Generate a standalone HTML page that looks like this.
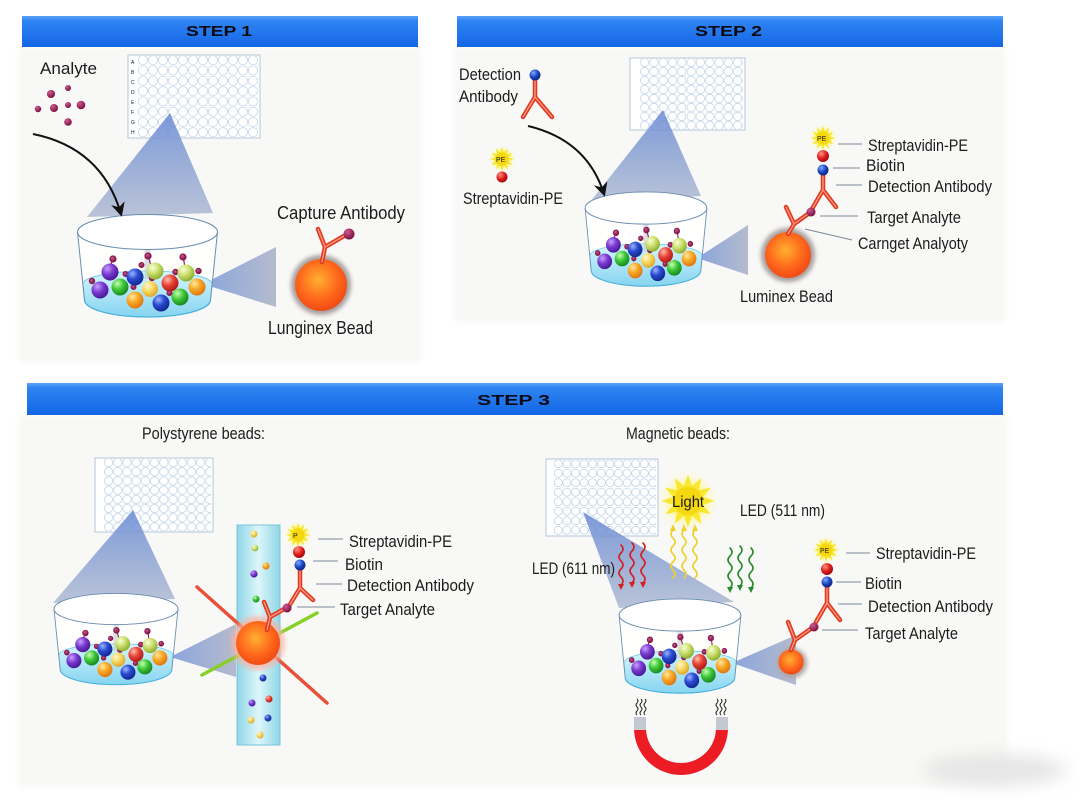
<!DOCTYPE html>
<html><head><meta charset="utf-8">
<style>
html,body{margin:0;padding:0;background:#fff;}
svg{display:block;}
text{font-family:"Liberation Sans Narrow","Liberation Sans",sans-serif;fill:#1c1c1c;}
.bn{font-family:"Liberation Sans",sans-serif;font-weight:bold;fill:#0a0a14;font-size:15px;}
.ab{fill:none;stroke:#e03a22;stroke-width:4.5;stroke-linecap:round;stroke-linejoin:round;}
.abh{fill:none;stroke:#ff9a80;stroke-width:1.3;stroke-linecap:round;stroke-linejoin:round;}
.ln{stroke:#7a8898;stroke-width:1;}
</style></head>
<body>
<svg width="1080" height="810" viewBox="0 0 1080 810" xmlns="http://www.w3.org/2000/svg">
<defs>
  <linearGradient id="ban" x1="0" y1="0" x2="0" y2="1">
    <stop offset="0" stop-color="#5aa2f8"/><stop offset="0.15" stop-color="#2f84f2"/><stop offset="1" stop-color="#1466e6"/>
  </linearGradient>
  <linearGradient id="cone" x1="0" y1="0" x2="0" y2="1">
    <stop offset="0" stop-color="#6688d4" stop-opacity=".85"/><stop offset="1" stop-color="#aab6d0" stop-opacity=".8"/>
  </linearGradient>
  <linearGradient id="sc" x1="0" y1="0" x2="1" y2="0">
    <stop offset="0" stop-color="#7896d8" stop-opacity=".85"/><stop offset="1" stop-color="#a8b0c6" stop-opacity=".85"/>
  </linearGradient>
  <linearGradient id="liq" x1="0" y1="0" x2="0" y2="1">
    <stop offset="0" stop-color="#d4f6ff"/><stop offset="1" stop-color="#86d4f0"/>
  </linearGradient>
  <linearGradient id="chan" x1="0" y1="0" x2="1" y2="0">
    <stop offset="0" stop-color="#8fd6e6"/><stop offset=".5" stop-color="#dcf6fa"/><stop offset="1" stop-color="#8fd6e6"/>
  </linearGradient>
  <radialGradient id="bead" cx=".45" cy=".4" r=".6">
    <stop offset="0" stop-color="#ffb030"/><stop offset=".6" stop-color="#ff6a1c"/><stop offset="1" stop-color="#f04a14"/>
  </radialGradient>
  <radialGradient id="gPu" cx=".35" cy=".3" r=".7"><stop offset="0" stop-color="#c8a0ff"/><stop offset=".5" stop-color="#7a3ad0"/><stop offset="1" stop-color="#4a1a98"/></radialGradient>
  <radialGradient id="gBl" cx=".35" cy=".3" r=".7"><stop offset="0" stop-color="#9ab4ff"/><stop offset=".5" stop-color="#2848d0"/><stop offset="1" stop-color="#142a90"/></radialGradient>
  <radialGradient id="gGr" cx=".35" cy=".3" r=".7"><stop offset="0" stop-color="#c8ffb0"/><stop offset=".5" stop-color="#40c83a"/><stop offset="1" stop-color="#1a8a20"/></radialGradient>
  <radialGradient id="gYg" cx=".35" cy=".3" r=".7"><stop offset="0" stop-color="#f8ffd8"/><stop offset=".5" stop-color="#cce070"/><stop offset="1" stop-color="#90b030"/></radialGradient>
  <radialGradient id="gYe" cx=".35" cy=".3" r=".7"><stop offset="0" stop-color="#fff8d0"/><stop offset=".5" stop-color="#f8d860"/><stop offset="1" stop-color="#e0a830"/></radialGradient>
  <radialGradient id="gOr" cx=".35" cy=".3" r=".7"><stop offset="0" stop-color="#ffe8a0"/><stop offset=".5" stop-color="#f8a824"/><stop offset="1" stop-color="#e07810"/></radialGradient>
  <radialGradient id="gRe" cx=".35" cy=".3" r=".7"><stop offset="0" stop-color="#ffc0b0"/><stop offset=".5" stop-color="#e84434"/><stop offset="1" stop-color="#b01c18"/></radialGradient>
  <radialGradient id="gMa" cx=".35" cy=".3" r=".7"><stop offset="0" stop-color="#d05a90"/><stop offset="1" stop-color="#7a1040"/></radialGradient>
  <radialGradient id="gRd" cx=".35" cy=".3" r=".7"><stop offset="0" stop-color="#ff9080"/><stop offset=".6" stop-color="#e01a1a"/><stop offset="1" stop-color="#a00c10"/></radialGradient>
  <radialGradient id="gBd" cx=".35" cy=".3" r=".7"><stop offset="0" stop-color="#80a8ff"/><stop offset=".6" stop-color="#1a44c0"/><stop offset="1" stop-color="#0c2680"/></radialGradient>
  <filter id="blur2" x="-50%" y="-50%" width="200%" height="200%"><feGaussianBlur stdDeviation="2"/></filter>
  <filter id="blur1" x="-50%" y="-50%" width="200%" height="200%"><feGaussianBlur stdDeviation="1"/></filter>
  <filter id="blur3" x="-50%" y="-50%" width="200%" height="200%"><feGaussianBlur stdDeviation="3"/></filter>
  <filter id="blur8" x="-50%" y="-50%" width="200%" height="200%"><feGaussianBlur stdDeviation="8"/></filter>
  <pattern id="w1" patternUnits="userSpaceOnUse" x="138" y="55" width="10" height="10.3"><circle cx="5" cy="5.15" r="4.6" fill="none" stroke="#bcd0e4" stroke-width=".7"/></pattern>
  <pattern id="w2" patternUnits="userSpaceOnUse" x="640" y="58" width="9.3" height="9" ><circle cx="4.65" cy="4.5" r="4.2" fill="none" stroke="#bcd0e4" stroke-width=".7"/></pattern>
  <pattern id="w3" patternUnits="userSpaceOnUse" x="104" y="458" width="9.2" height="9.2"><circle cx="4.6" cy="4.6" r="4.2" fill="none" stroke="#bcd0e4" stroke-width=".7"/></pattern>
  <pattern id="w4" patternUnits="userSpaceOnUse" x="554" y="459" width="8.6" height="9.5"><circle cx="4.3" cy="4.75" r="4" fill="none" stroke="#bcd0e4" stroke-width=".7"/></pattern>
  <marker id="ah" viewBox="0 0 10 10" refX="8" refY="5" markerWidth="7" markerHeight="7" orient="auto">
    <path d="M0,0 L10,5 L0,10 L3,5 Z" fill="#111"/>
  </marker>
  <g id="star">
    <circle r="10" fill="#fff6a0" filter="url(#blur2)"/>
    <polygon points="12,0 6.76,1.81 10.4,6 4.95,4.95 6,10.4 1.81,6.76 0,12 -1.81,6.76 -6,10.4 -4.95,4.95 -10.4,6 -6.76,1.81 -12,0 -6.76,-1.81 -10.4,-6 -4.95,-4.95 -6,-10.4 -1.81,-6.76 0,-12 1.81,-6.76 6,-10.4 4.95,-4.95 10.4,-6 6.76,-1.81" fill="#f8e830"/>
    <circle r="6.5" fill="#f6d810"/>
  </g>
  <g id="beads">
    <g stroke="#8a1a50" stroke-width="1.2" fill="url(#gMa)">
      <line x1="-37" y1="33" x2="-35" y2="28"/><circle cx="-34.5" cy="27" r="3"/>
      <line x1="3" y1="32" x2="1" y2="25"/><circle cx="0.5" cy="24" r="3"/>
      <line x1="37" y1="33" x2="36" y2="26"/><circle cx="35.5" cy="25" r="3"/>
      <circle cx="-55.5" cy="49" r="2.6"/>
      <circle cx="-6" cy="33" r="2.4"/>
      <circle cx="4.5" cy="46" r="2.6"/>
      <circle cx="28" cy="40" r="2.6"/>
      <circle cx="51" cy="39" r="2.6"/>
      <circle cx="-14" cy="55" r="2.4"/>
      <circle cx="-22" cy="42" r="2.4"/>
      <circle cx="22" cy="61" r="2.4"/>
    </g>
    <circle cx="-37.5" cy="40" r="8.5" fill="url(#gPu)"/>
    <circle cx="7.5" cy="39" r="8.5" fill="url(#gYg)"/>
    <circle cx="38.5" cy="41" r="8.5" fill="url(#gYg)"/>
    <circle cx="-12.5" cy="45" r="8.5" fill="url(#gBl)"/>
    <circle cx="22.5" cy="51" r="8.5" fill="url(#gRe)"/>
    <circle cx="49.5" cy="55" r="8.5" fill="url(#gOr)"/>
    <circle cx="-27.5" cy="55" r="8.5" fill="url(#gGr)"/>
    <circle cx="2.5" cy="57" r="8" fill="url(#gYe)"/>
    <circle cx="-47.5" cy="58" r="8.5" fill="url(#gPu)"/>
    <circle cx="32.5" cy="65" r="8.5" fill="url(#gGr)"/>
    <circle cx="-12.5" cy="68" r="8.5" fill="url(#gOr)"/>
    <circle cx="13.5" cy="71" r="8.5" fill="url(#gBl)"/>
  </g>
  <g id="cup">
    <path d="M-70,0 L-63,68 A63,17 0 0 0 63,68 L70,0 Z" fill="#ffffff" fill-opacity=".9"/>
    <path d="M-64.6,52 A64.6,13 0 0 1 64.6,52 L63,68 A63,17 0 0 1 -63,68 Z" fill="url(#liq)" stroke="#6cc4e6" stroke-width=".8"/>
    <rect x="-3" y="17" width="6" height="30" fill="#c4c8d0" opacity=".6"/>
    <ellipse cx="0" cy="0" rx="70" ry="17.5" fill="#ffffff" stroke="#6a8cb0" stroke-width="1"/>
    <use href="#beads"/>
    <path d="M-70,0 L-63,68 M70,0 L63,68" stroke="#6a8cb0" stroke-width="1" fill="none"/>
    <path d="M-63,68 A63,17 0 0 0 63,68" stroke="#4ab0dc" stroke-width="1.2" fill="none"/>
  </g>
</defs>

<!-- panels -->
<rect x="0" y="0" width="1080" height="810" fill="#ffffff"/>
<g filter="url(#blur3)">
<rect x="18" y="47" width="404" height="315" fill="#f8f8f6"/>
<rect x="454" y="47" width="552" height="275" fill="#f8f8f6"/>
<rect x="18" y="415" width="990" height="372" fill="#f8f8f6"/>
</g>
<ellipse cx="995" cy="770" rx="72" ry="16" fill="#e6e6e6" filter="url(#blur8)"/>

<!-- banners -->
<rect x="22" y="16" width="396" height="31" fill="url(#ban)"/>
<text class="bn" x="186" y="36" textLength="66" lengthAdjust="spacingAndGlyphs">STEP 1</text>
<rect x="457" y="16" width="546" height="31" fill="url(#ban)"/>
<text class="bn" x="695" y="36" textLength="67" lengthAdjust="spacingAndGlyphs">STEP 2</text>
<rect x="27" y="383" width="976" height="32" fill="url(#ban)"/>
<text class="bn" x="477" y="405" textLength="73" lengthAdjust="spacingAndGlyphs">STEP 3</text>

<!-- ================= STEP 1 ================= -->
<text x="40" y="74" font-size="17" textLength="57" lengthAdjust="spacingAndGlyphs">Analyte</text>
<g fill="url(#gMa)">
  <circle cx="51" cy="94" r="4"/><circle cx="68" cy="88" r="3"/><circle cx="38" cy="109" r="3.2"/>
  <circle cx="54" cy="108" r="4"/><circle cx="68" cy="105" r="3"/><circle cx="81" cy="105" r="4.3"/>
  <circle cx="68" cy="122" r="3.8"/>
</g>
<rect x="128" y="55" width="132" height="83" fill="#fff" stroke="#b4c6da" stroke-width="1"/>
<rect x="138" y="56" width="120" height="81" fill="url(#w1)"/>
<g font-size="5" fill="#556" font-family="Liberation Sans">
<text x="131" y="64">A</text><text x="131" y="74">B</text><text x="131" y="84">C</text><text x="131" y="94">D</text><text x="131" y="104">E</text><text x="131" y="114">F</text><text x="131" y="124">G</text><text x="131" y="134">H</text></g>
<polygon points="170,113 87,217 213,213" fill="url(#cone)"/>
<polygon points="203,284 276,247 276,307" fill="url(#sc)"/>
<use href="#cup" transform="translate(147.5,232)"/>
<path d="M33,134 Q102,148 121,214" fill="none" stroke="#111" stroke-width="2" marker-end="url(#ah)"/>
<circle cx="321" cy="285" r="30" fill="#a8a0a0" filter="url(#blur2)"/>
<circle cx="321" cy="285" r="26" fill="url(#bead)"/>
<path class="ab" d="M322,262 L325,247 L318,229 M325,247 L344,236"/>
<path class="abh" d="M322,262 L325,247 L318,229 M325,247 L344,236"/>
<circle cx="349" cy="234" r="5.5" fill="url(#gMa)"/>
<text x="277" y="219" font-size="18" textLength="128" lengthAdjust="spacingAndGlyphs">Capture Antibody</text>
<text x="268" y="334" font-size="18" textLength="105" lengthAdjust="spacingAndGlyphs">Lunginex Bead</text>

<!-- ================= STEP 2 ================= -->
<text x="459" y="80" font-size="16.5" textLength="62" lengthAdjust="spacingAndGlyphs">Detection</text>
<text x="459" y="102" font-size="16.5" textLength="59" lengthAdjust="spacingAndGlyphs">Antibody</text>
<path class="ab" d="M535,80 L535,97 L523,117 M535,97 L552,117"/>
<path class="abh" d="M535,80 L535,97 L523,117 M535,97 L552,117"/>
<circle cx="535" cy="75" r="5.5" fill="url(#gBd)"/>
<use href="#star" transform="translate(502,159)"/>
<text x="496" y="162" font-size="7" font-family="Liberation Sans" fill="#333">PE</text>
<circle cx="502" cy="177" r="5.5" fill="url(#gRd)"/>
<text x="463" y="204" font-size="16.5" textLength="100" lengthAdjust="spacingAndGlyphs">Streptavidin-PE</text>
<rect x="630" y="58" width="115" height="72" fill="#fff" stroke="#b4c6da" stroke-width="1"/>
<rect x="640" y="59" width="103" height="70" fill="url(#w2)"/>
<polygon points="663,110 590,202 701,196" fill="url(#cone)"/>
<polygon points="697,258 748,225 748,275" fill="url(#sc)"/>
<use href="#cup" transform="translate(646,208) scale(0.87,0.92)"/>
<path d="M528,126 Q587,140 604,194" fill="none" stroke="#111" stroke-width="2" marker-end="url(#ah)"/>
<circle cx="788" cy="255" r="27" fill="#a8a0a0" filter="url(#blur2)"/>
<circle cx="788" cy="255" r="23" fill="url(#bead)"/>
<path class="ab" d="M788,234 L794,224 L786,207 M794,224 L808,214 M823,175 L823,190 L812,209 M823,190 L836,207"/>
<path class="abh" d="M788,234 L794,224 L786,207 M794,224 L808,214 M823,175 L823,190 L812,209 M823,190 L836,207"/>
<circle cx="811" cy="212" r="4.5" fill="url(#gMa)"/>
<circle cx="823" cy="170" r="5.5" fill="url(#gBd)"/>
<circle cx="823" cy="156" r="6" fill="url(#gRd)"/>
<use href="#star" transform="translate(823,138)"/>
<text x="817" y="141" font-size="7" font-family="Liberation Sans" fill="#333">PE</text>
<g class="ln"><line x1="838" y1="144" x2="862" y2="144"/><line x1="833" y1="168" x2="860" y2="168"/><line x1="836" y1="185" x2="862" y2="185"/><line x1="820" y1="216" x2="858" y2="216"/><line x1="805" y1="229" x2="852" y2="240"/></g>
<g font-size="16.5">
<text x="868" y="151" textLength="100" lengthAdjust="spacingAndGlyphs">Streptavidin-PE</text>
<text x="866" y="171" textLength="39" lengthAdjust="spacingAndGlyphs">Biotin</text>
<text x="868" y="192" textLength="124" lengthAdjust="spacingAndGlyphs">Detection Antibody</text>
<text x="867" y="223" textLength="94" lengthAdjust="spacingAndGlyphs">Target Analyte</text>
<text x="858" y="249" textLength="110" lengthAdjust="spacingAndGlyphs">Carnget Analyoty</text>
<text x="740" y="302" textLength="93" lengthAdjust="spacingAndGlyphs">Luminex Bead</text>
</g>

<!-- ================= STEP 3 LEFT ================= -->
<text x="142" y="439" font-size="16.5" textLength="123" lengthAdjust="spacingAndGlyphs">Polystyrene beads:</text>
<rect x="95" y="458" width="118" height="74" fill="#fff" stroke="#b4c6da" stroke-width="1"/>
<rect x="104" y="459" width="107" height="72" fill="url(#w3)"/>
<polygon points="133,510 53,603 175,599" fill="url(#cone)"/>
<polygon points="170,657 236,624 236,677" fill="url(#sc)"/>
<use href="#cup" transform="translate(116,609) scale(0.886,0.89)"/>
<rect x="237" y="525" width="43" height="220" fill="url(#chan)" stroke="#78c6da" stroke-width="1"/>
<g>
<circle cx="254" cy="534" r="3.5" fill="url(#gYe)"/><circle cx="255" cy="548" r="3.3" fill="url(#gYg)"/>
<circle cx="266" cy="566" r="3.6" fill="url(#gOr)"/><circle cx="254" cy="574" r="3.6" fill="url(#gPu)"/>
<circle cx="256" cy="599" r="3.5" fill="url(#gGr)"/><circle cx="263" cy="678" r="3.5" fill="url(#gBl)"/>
<circle cx="252" cy="703" r="3.5" fill="url(#gPu)"/><circle cx="269" cy="699" r="3.5" fill="url(#gRe)"/>
<circle cx="251" cy="720" r="3.5" fill="url(#gYe)"/><circle cx="268" cy="718" r="3.5" fill="url(#gBl)"/>
<circle cx="260" cy="735" r="3.5" fill="url(#gYe)"/>
</g>
<line x1="197" y1="587" x2="327" y2="703" stroke="#e8503a" stroke-width="3.5" stroke-linecap="round"/>
<line x1="202" y1="675" x2="317" y2="613" stroke="#88d028" stroke-width="3.5" stroke-linecap="round"/>
<circle cx="258" cy="643" r="27" fill="#ffb0a0" opacity=".7" filter="url(#blur2)"/>
<circle cx="258" cy="643" r="22" fill="url(#bead)"/>
<path class="ab" d="M267,630 L270,617 L264,602 M270,617 L286,608 M300,570 L300,588 L289,606 M300,588 L313,600"/>
<path class="abh" d="M267,630 L270,617 L264,602 M270,617 L286,608 M300,570 L300,588 L289,606 M300,588 L313,600"/>
<circle cx="287" cy="608" r="4.5" fill="url(#gMa)"/>
<circle cx="300" cy="565" r="5.5" fill="url(#gBd)"/>
<circle cx="299" cy="552" r="6" fill="url(#gRd)"/>
<use href="#star" transform="translate(298,535)"/>
<text x="293" y="538" font-size="7" font-family="Liberation Sans" fill="#333">P</text>
<g class="ln"><line x1="318" y1="539" x2="343" y2="539"/><line x1="313" y1="561" x2="338" y2="561"/><line x1="316" y1="584" x2="342" y2="584"/><line x1="297" y1="607" x2="335" y2="607"/></g>
<g font-size="16.5">
<text x="349" y="547" textLength="103" lengthAdjust="spacingAndGlyphs">Streptavidin-PE</text>
<text x="345" y="570" textLength="38" lengthAdjust="spacingAndGlyphs">Biotin</text>
<text x="347" y="591" textLength="127" lengthAdjust="spacingAndGlyphs">Detection Antibody</text>
<text x="340" y="615" textLength="95" lengthAdjust="spacingAndGlyphs">Target Analyte</text>
</g>

<!-- ================= STEP 3 RIGHT ================= -->
<text x="626" y="439" font-size="16.5" textLength="104" lengthAdjust="spacingAndGlyphs">Magnetic beads:</text>
<rect x="546" y="459" width="112" height="77" fill="#fff" stroke="#b4c6da" stroke-width="1"/>
<rect x="554" y="460" width="102" height="75" fill="url(#w4)"/>
<polygon points="583,512 619,608 734,602" fill="url(#cone)"/>
<polygon points="732,663 796,635 796,685" fill="url(#sc)"/>
<!-- wavy arrows -->
<g fill="none" stroke-width="1.6" stroke-linecap="round">
  <g stroke="#d42020">
    <path d="M621,545 q4,4 0,8 t0,8 t0,8 t0,8 t0,8"/>
    <path d="M632,543 q4,4 0,8 t0,8 t0,8 t0,8 t0,8"/>
    <path d="M643,543 q4,4 0,8 t0,8 t0,8 t0,8 t0,8"/>
  </g>
  <g stroke="#f0d028">
    <path d="M673,578 q4,-4 0,-8 t0,-8 t0,-8 t0,-8 t0,-8 t0,-8"/>
    <path d="M684,578 q4,-4 0,-8 t0,-8 t0,-8 t0,-8 t0,-8 t0,-8"/>
    <path d="M695,578 q4,-4 0,-8 t0,-8 t0,-8 t0,-8 t0,-8 t0,-8"/>
  </g>
  <g stroke="#2a8a30">
    <path d="M730,548 q4,4 0,8 t0,8 t0,8 t0,8 t0,8"/>
    <path d="M740,546 q4,4 0,8 t0,8 t0,8 t0,8 t0,8"/>
    <path d="M751,548 q4,4 0,8 t0,8 t0,8 t0,8 t0,8"/>
  </g>
</g>
<g fill="#d42020"><polygon points="618,584 624,584 621,590"/><polygon points="629,582 635,582 632,588"/><polygon points="640,582 646,582 643,588"/></g>
<g fill="#f0d028"><polygon points="670,531 676,531 673,524"/><polygon points="681,531 687,531 684,524"/><polygon points="692,531 698,531 695,524"/></g>
<g fill="#2a8a30"><polygon points="727,587 733,587 730,593"/><polygon points="737,585 743,585 740,591"/><polygon points="748,587 754,587 751,593"/></g>
<use href="#star" transform="translate(688,501) scale(2.2)"/>
<text x="672" y="507" font-size="16" textLength="32" lengthAdjust="spacingAndGlyphs">Light</text>
<text x="740" y="516" font-size="16.5" textLength="85" lengthAdjust="spacingAndGlyphs">LED (511 nm)</text>
<text x="532" y="574" font-size="16.5" textLength="83" lengthAdjust="spacingAndGlyphs">LED (611 nm)</text>
<use href="#cup" transform="translate(680,615) scale(0.87,0.92)"/>
<!-- magnet -->
<g stroke="#222" stroke-width="1" fill="none">
  <path d="M637,699 q2,2 0,4 t0,4 t0,4 t0,4"/><path d="M641,699 q2,2 0,4 t0,4 t0,4 t0,4"/><path d="M645,699 q2,2 0,4 t0,4 t0,4 t0,4"/>
  <path d="M717,699 q2,2 0,4 t0,4 t0,4 t0,4"/><path d="M721,699 q2,2 0,4 t0,4 t0,4 t0,4"/><path d="M725,699 q2,2 0,4 t0,4 t0,4 t0,4"/>
</g>
<rect x="634" y="717" width="12" height="14" fill="#c4c8d0"/>
<rect x="716" y="717" width="12" height="14" fill="#c4c8d0"/>
<path d="M634,730 L634,728 A47,47 0 0 0 728,728 L728,730 L716,730 L716,728 A35,35 0 0 1 646,728 L646,730 Z" fill="#ec1c24"/>
<!-- bead + stack -->
<circle cx="792" cy="663" r="15" fill="#b0a4a4" filter="url(#blur2)"/>
<circle cx="791" cy="662" r="12.5" fill="url(#bead)"/>
<path class="ab" d="M791,650 L795,640 L788,622 M795,640 L812,628 M827,587 L827,603 L816,622 M827,603 L840,620"/>
<path class="abh" d="M791,650 L795,640 L788,622 M795,640 L812,628 M827,587 L827,603 L816,622 M827,603 L840,620"/>
<circle cx="814" cy="627" r="4.5" fill="url(#gMa)"/>
<circle cx="827" cy="582" r="5.5" fill="url(#gBd)"/>
<circle cx="827" cy="569" r="6" fill="url(#gRd)"/>
<use href="#star" transform="translate(826,550)"/>
<text x="820" y="553" font-size="7" font-family="Liberation Sans" fill="#333">PE</text>
<g class="ln"><line x1="846" y1="553" x2="870" y2="553"/><line x1="836" y1="582" x2="861" y2="582"/><line x1="838" y1="604" x2="862" y2="604"/><line x1="822" y1="630" x2="858" y2="630"/></g>
<g font-size="16.5">
<text x="876" y="559" textLength="100" lengthAdjust="spacingAndGlyphs">Streptavidin-PE</text>
<text x="865" y="589" textLength="37" lengthAdjust="spacingAndGlyphs">Biotin</text>
<text x="868" y="612" textLength="125" lengthAdjust="spacingAndGlyphs">Detection Antibody</text>
<text x="865" y="639" textLength="93" lengthAdjust="spacingAndGlyphs">Target Analyte</text>
</g>
</svg>
</body></html>
